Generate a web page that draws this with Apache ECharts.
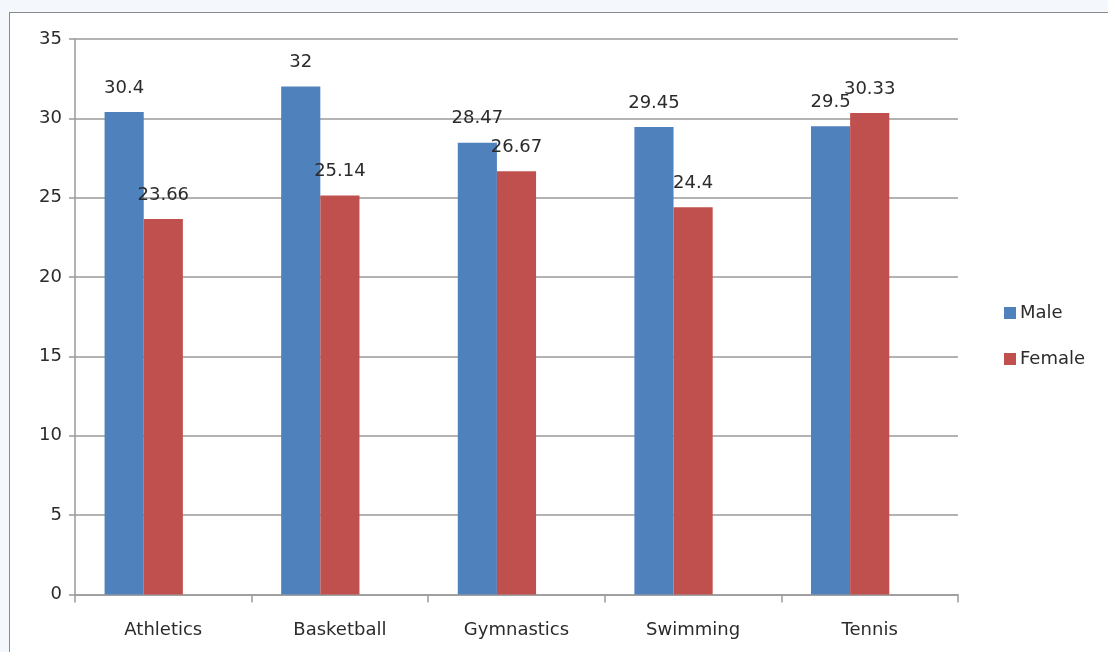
<!DOCTYPE html>
<html>
<head>
<meta charset="utf-8">
<title>Average age by sport and gender</title>
<script src="https://cdn.jsdelivr.net/npm/echarts@6/dist/echarts.min.js"></script>
<style>
  html, body { margin: 0; padding: 0; width: 1108px; height: 652px; overflow: hidden; background: #f4f7fb; }
  #frame { position: absolute; left: 9px; top: 12px; width: 1200px; height: 700px; background: #ffffff; border: 1.5px solid #8a8a8a; box-sizing: border-box; }
  #chart { position: absolute; left: 0; top: 0; width: 1108px; height: 652px; }
</style>
</head>
<body>
<div id="frame"></div>
<div id="chart"></div>
<script>
// Sports on the category axis
const categories = ['Athletics', 'Basketball', 'Gymnastics', 'Swimming', 'Tennis'];
// Average values per sport
const maleValues = [30.4, 32, 28.47, 29.45, 29.5];
const femaleValues = [23.66, 25.14, 26.67, 24.4, 30.33];
// Empty third series that keeps its slot in each group
const emptyValues = [null, null, null, null, null];
// Value axis range
const yMin = 0;
const yMax = 35;
const yStep = 5;

const textFont = '"DejaVu Sans", "Open Sans", sans-serif';
const textSize = 18;
const textColor = '#2b2b2b';
const chart = echarts.init(document.getElementById('chart'), null, { renderer: 'canvas' });

const labelStyle = {
  show: true,
  position: 'top',
  distance: 15,
  color: textColor,
  fontSize: textSize,
  fontFamily: textFont
};

chart.setOption({
  backgroundColor: 'transparent',
  animation: false,
  grid: { left: 75, right: 150, top: 39, bottom: 57.5, containLabel: false },
  legend: {
    data: ['Male', 'Female'],
    orient: 'vertical',
    left: 999,
    top: 299,
    itemWidth: 12,
    itemHeight: 12,
    itemGap: 28,
    icon: 'rect',
    textStyle: { color: textColor, fontSize: textSize, fontFamily: textFont, padding: [0, 0, 0, -1] }
  },
  xAxis: {
    type: 'category',
    data: categories,
    axisLine: { lineStyle: { color: '#9a9a9a', width: 1.5 } },
    axisTick: { show: true, alignWithLabel: false, length: 8, lineStyle: { color: '#9a9a9a', width: 1.5 } },
    axisLabel: { color: textColor, fontSize: textSize, fontFamily: textFont, margin: 27 },
    splitLine: { show: false }
  },
  yAxis: {
    type: 'value',
    min: yMin,
    max: yMax,
    interval: yStep,
    axisLine: { show: true, lineStyle: { color: '#9a9a9a', width: 1.5 } },
    axisTick: { show: true, inside: false, length: 6, lineStyle: { color: '#9a9a9a', width: 1.5 } },
    axisLabel: { color: textColor, fontSize: textSize, fontFamily: textFont, margin: 13 },
    splitLine: { show: true, lineStyle: { color: '#9a9a9a', width: 1.5 } }
  },
  series: [
    {
      name: 'Male',
      type: 'bar',
      data: maleValues,
      barGap: '0%',
      barCategoryGap: '33.5%',
      itemStyle: { color: '#4f81bd' },
      label: labelStyle
    },
    {
      name: 'Female',
      type: 'bar',
      data: femaleValues,
      barGap: '0%',
      barCategoryGap: '33.5%',
      itemStyle: { color: '#c0504d' },
      label: labelStyle
    },
    {
      name: 'Other',
      type: 'bar',
      data: emptyValues,
      barGap: '0%',
      barCategoryGap: '33.5%',
      itemStyle: { color: '#9bbb59' }
    }
  ]
});
</script>
</body>
</html>
